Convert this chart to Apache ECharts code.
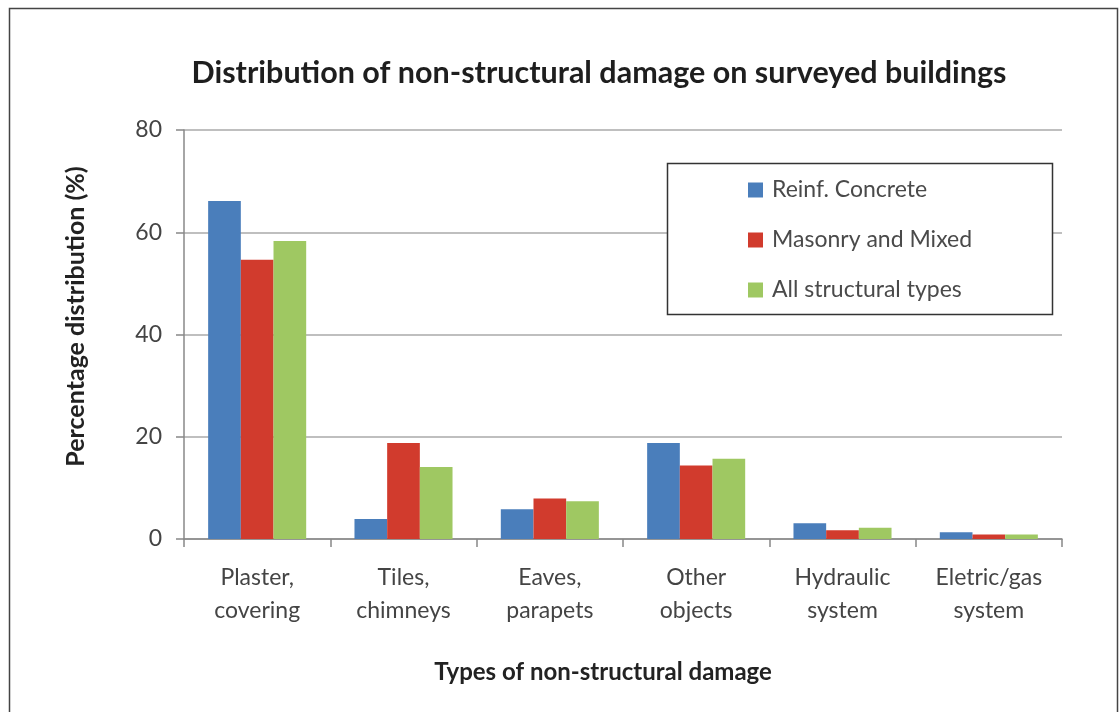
<!DOCTYPE html>
<html>
<head>
<meta charset="utf-8">
<script src="https://cdn.jsdelivr.net/npm/echarts@6/dist/echarts.min.js"></script>
<style>
  html, body { margin: 0; padding: 0; background: #fff; }
  #chart { width: 1120px; height: 712px; }
</style>
</head>
<body>
<div id="chart"></div>
<script>
// Damage categories and share of surveyed buildings (%) per structural type
const categories = ['Plaster,\ncovering', 'Tiles,\nchimneys', 'Eaves,\nparapets', 'Other\nobjects', 'Hydraulic\nsystem', 'Eletric/gas\nsystem'];
const reinfConcrete = [66.1, 3.9, 5.8, 18.8, 3.1, 1.3];
const masonryMixed = [54.6, 18.8, 7.9, 14.4, 1.7, 0.9];
const allTypes = [58.3, 14.1, 7.4, 15.7, 2.2, 0.9];
const yTicks = { min: 0, max: 80, interval: 20 };

const chart = echarts.init(document.getElementById('chart'));
const font = 'Lato, "Open Sans", sans-serif';

chart.setOption({
  backgroundColor: '#ffffff',
  animation: false,
  graphic: [{
    type: 'rect',
    shape: { x: 9.5, y: 8.5, width: 1108, height: 720 },
    style: { fill: 'none', stroke: '#444', lineWidth: 1.5 },
    silent: true
  }, {
    type: 'rect',
    shape: { x: 667.5, y: 163.5, width: 385, height: 151 },
    style: { fill: '#fff', stroke: '#333', lineWidth: 1.5 },
    z: 1
  }],
  title: {
    text: 'Distribution of non-structural damage on surveyed buildings',
    left: 594, top: 53, textAlign: 'center',
    textStyle: { fontFamily: font, fontWeight: 'bold', fontSize: 30.5, color: '#1e1e1e' }
  },
  legend: {
    left: 743, top: 173,
    orient: 'vertical',
    itemWidth: 15, itemHeight: 15, itemGap: 26,
    icon: 'rect',
    textStyle: { fontFamily: font, fontSize: 23, lineHeight: 24, color: '#4a4a4a', padding: [0, 0, 0, 4] },
    z: 5
  },
  grid: { left: 184, right: 58, top: 130, bottom: 173 },
  xAxis: {
    type: 'category',
    data: categories,
    name: 'Types of non-structural damage',
    nameLocation: 'middle', nameGap: 121,
    nameTextStyle: { fontFamily: font, fontWeight: 'bold', fontSize: 24, color: '#222', padding: [0, 40, 0, 0] },
    axisLine: { lineStyle: { color: '#888', width: 1.5 } },
    axisTick: { show: true, length: 8, lineStyle: { color: '#888', width: 1.5 } },
    axisLabel: { fontFamily: font, fontSize: 23, color: '#444', lineHeight: 33, margin: 22 }
  },
  yAxis: {
    type: 'value',
    min: yTicks.min, max: yTicks.max, interval: yTicks.interval,
    name: 'Percentage distribution (%)',
    nameLocation: 'middle', nameGap: 96, nameRotate: 90,
    nameTextStyle: { fontFamily: font, fontWeight: 'bold', fontSize: 25, color: '#222', padding: [0, 0, 0, 36] },
    axisLine: { show: true, lineStyle: { color: '#888', width: 1.5 } },
    axisTick: { show: true, length: 8, lineStyle: { color: '#888', width: 1.5 } },
    axisLabel: { fontFamily: font, fontSize: 23, color: '#444', margin: 22 },
    splitLine: { lineStyle: { color: '#aaa', width: 1.5 } }
  },
  series: [
    { name: 'Reinf. Concrete', type: 'bar', data: reinfConcrete, itemStyle: { color: '#4A7EBB' }, barGap: '0%', barCategoryGap: '33%' },
    { name: 'Masonry and Mixed', type: 'bar', data: masonryMixed, itemStyle: { color: '#D13B2D' } },
    { name: 'All structural types', type: 'bar', data: allTypes, itemStyle: { color: '#9FC862' } }
  ]
});
</script>
</body>
</html>
